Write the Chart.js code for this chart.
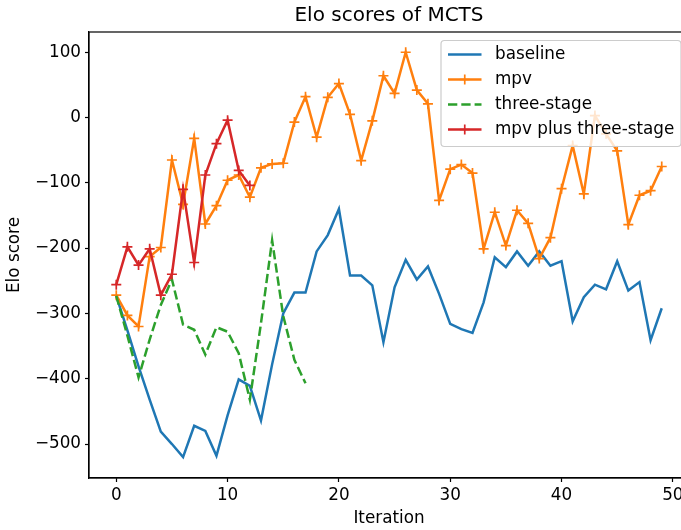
<!DOCTYPE html>
<html>
<head>
<meta charset="utf-8">
<script src="https://cdn.jsdelivr.net/npm/chart.js@4.4.0/dist/chart.umd.min.js"></script>
<style>
  html, body { margin: 0; padding: 0; overflow: hidden; background: #fff; }
  #wrap { width: 700px; height: 530px; }
  canvas { display: block; }
</style>
</head>
<body>
<div id="wrap"><canvas id="elo" width="700" height="530"></canvas></div>
<script>
// values
const baseline = [-273, -326, -381, -432, -481, -500, -520, -472, -480, -518,
                  -456, -401, -411, -464, -378, -300, -268, -268, -205, -180,
                  -140, -242, -242, -257, -344, -260, -218, -248, -228, -270,
                  -316, -324, -330, -283, -214, -229, -205, -227, -205, -227,
                  -220, -312, -275, -256, -263, -220, -265, -252, -341, -292];
const mpv = [-272, -303, -320, -213, -199, -65, -133, -32, -163, -135,
             -96, -88, -122, -77, -71, -70, -7, 32, -30, 31,
             52, 5, -66, -5, 64, 37, 100, 42, 21, -127,
             -79, -72, -85, -201, -145, -196, -142, -162, -216, -184,
             -109, -43, -117, 3, -25, -51, -164, -119, -112, -75];
const threeStage = [-273, -334, -398, -340, -287, -248, -317, -325, -363, -321,
                    -328, -361, -432, -315, -188, -304, -371, -407];
const mpvPlusThree = [-256, -198, -226, -201, -272, -240, -110, -222, -88, -40,
                      -4, -81, -104];
const seriesNames = ["baseline", "mpv", "three-stage", "mpv plus three-stage"];
const xTicks = [0, 10, 20, 30, 40, 50];
const yTicks = [-500, -400, -300, -200, -100, 0, 100];

const FONT = "DejaVu Sans";
const colors = ["#1f77b4", "#ff7f0e", "#2ca02c", "#d62728"];
const dash = [9.3, 4];

function toPoints(arr) {
    return arr.map((v, i) => ({ x: i, y: v }));
}

const framePlugin = {
    id: "frame",
    afterDatasetsDraw(chart) {
        const ctx = chart.ctx;
        const a = chart.chartArea;
        ctx.save();
        ctx.strokeStyle = "#000";
        ctx.lineWidth = 1.2;
        ctx.strokeRect(a.left, a.top, a.right - a.left, a.bottom - a.top);

        // title
        ctx.fillStyle = "#000";
        ctx.font = "20px '" + FONT + "'";
        ctx.textAlign = "center";
        ctx.textBaseline = "middle";
        ctx.fillText("Elo scores of MCTS", (a.left + a.right) / 2, 16);

        // legend box, matplotlib style
        const bx = 441, by = 40.5, bw = 240, bh = 106, r = 3.5;
        ctx.beginPath();
        ctx.moveTo(bx + r, by);
        ctx.lineTo(bx + bw - r, by);
        ctx.arcTo(bx + bw, by, bx + bw, by + r, r);
        ctx.lineTo(bx + bw, by + bh - r);
        ctx.arcTo(bx + bw, by + bh, bx + bw - r, by + bh, r);
        ctx.lineTo(bx + r, by + bh);
        ctx.arcTo(bx, by + bh, bx, by + bh - r, r);
        ctx.lineTo(bx, by + r);
        ctx.arcTo(bx, by, bx + r, by, r);
        ctx.closePath();
        ctx.fillStyle = "rgba(255,255,255,0.8)";
        ctx.fill();
        ctx.strokeStyle = "#cccccc";
        ctx.lineWidth = 1.2;
        ctx.stroke();

        const rows = [54.5, 79.5, 104.5, 129.5];
        seriesNames.forEach((name, k) => {
            const y = rows[k];
            ctx.strokeStyle = colors[k];
            ctx.lineWidth = 2.5;
            ctx.setLineDash(k === 2 ? dash : []);
            ctx.beginPath();
            ctx.moveTo(448, y);
            ctx.lineTo(481.5, y);
            ctx.stroke();
            ctx.setLineDash([]);
            if (k === 1 || k === 3) {
                ctx.lineWidth = 1.7;
                ctx.beginPath();
                ctx.moveTo(464.75 - 5, y);
                ctx.lineTo(464.75 + 5, y);
                ctx.moveTo(464.75, y - 5);
                ctx.lineTo(464.75, y + 5);
                ctx.stroke();
            }
            ctx.fillStyle = "#000";
            ctx.font = "16.8px '" + FONT + "'";
            ctx.textAlign = "left";
            ctx.textBaseline = "middle";
            ctx.fillText(name, 495, y);
        });
        ctx.restore();
    }
};

const ctx = document.getElementById("elo").getContext("2d");

new Chart(ctx, {
    type: "line",
    data: {
        datasets: [
            {
                label: seriesNames[0], data: toPoints(baseline),
                borderColor: colors[0], backgroundColor: colors[0],
                borderWidth: 2.5, pointRadius: 0, order: 3
            },
            {
                label: seriesNames[1], data: toPoints(mpv),
                borderColor: colors[1], backgroundColor: colors[1],
                borderWidth: 2.5, pointStyle: "cross", pointRadius: 5,
                pointBorderWidth: 1.7, pointBorderColor: colors[1], order: 2
            },
            {
                label: seriesNames[2], data: toPoints(threeStage),
                borderColor: colors[2], backgroundColor: colors[2],
                borderWidth: 2.5, borderDash: dash, pointRadius: 0, order: 1
            },
            {
                label: seriesNames[3], data: toPoints(mpvPlusThree),
                borderColor: colors[3], backgroundColor: colors[3],
                borderWidth: 2.5, pointStyle: "cross", pointRadius: 5,
                pointBorderWidth: 1.7, pointBorderColor: colors[3], order: 0
            }
        ]
    },
    options: {
        responsive: false,
        animation: false,
        events: [],
        layout: { padding: { top: 32, right: 11, left: 0, bottom: 0 } },
        elements: { line: { tension: 0 } },
        plugins: {
            legend: { display: false },
            title: { display: false },
            tooltip: { enabled: false }
        },
        scales: {
            x: {
                type: "linear",
                min: -2.45,
                max: 51.45,
                afterBuildTicks: (axis) => { axis.ticks = xTicks.map(v => ({ value: v })); },
                afterFit: (axis) => { axis.height = 52; },
                grid: {
                    drawOnChartArea: false, drawTicks: true, tickLength: 4,
                    tickColor: "#000", tickWidth: 1.2, color: "#000"
                },
                border: { display: true, color: "#000", width: 1.2 },
                ticks: {
                    color: "#000", padding: 4, maxRotation: 0,
                    font: { family: FONT, size: 16.8 }
                },
                title: {
                    display: true, text: "Iteration", color: "#000",
                    font: { family: FONT, size: 16.8 },
                    padding: { top: 0, bottom: 1 }
                }
            },
            y: {
                type: "linear",
                min: -552,
                max: 131,
                afterBuildTicks: (axis) => { axis.ticks = yTicks.map(v => ({ value: v })); },
                afterFit: (axis) => { axis.width = 89; },
                grid: {
                    drawOnChartArea: false, drawTicks: true, tickLength: 4,
                    tickColor: "#000", tickWidth: 1.2, color: "#000"
                },
                border: { display: true, color: "#000", width: 1.2 },
                ticks: {
                    color: "#000", padding: 4,
                    font: { family: FONT, size: 16.8 },
                    callback: (v) => (v < 0 ? "\u2212" + Math.abs(v) : String(v))
                },
                title: {
                    display: true, text: "Elo score", color: "#000",
                    font: { family: FONT, size: 16.8 },
                    padding: { top: 5, bottom: 0 }
                }
            }
        }
    },
    plugins: [framePlugin]
});
</script>
</body>
</html>
